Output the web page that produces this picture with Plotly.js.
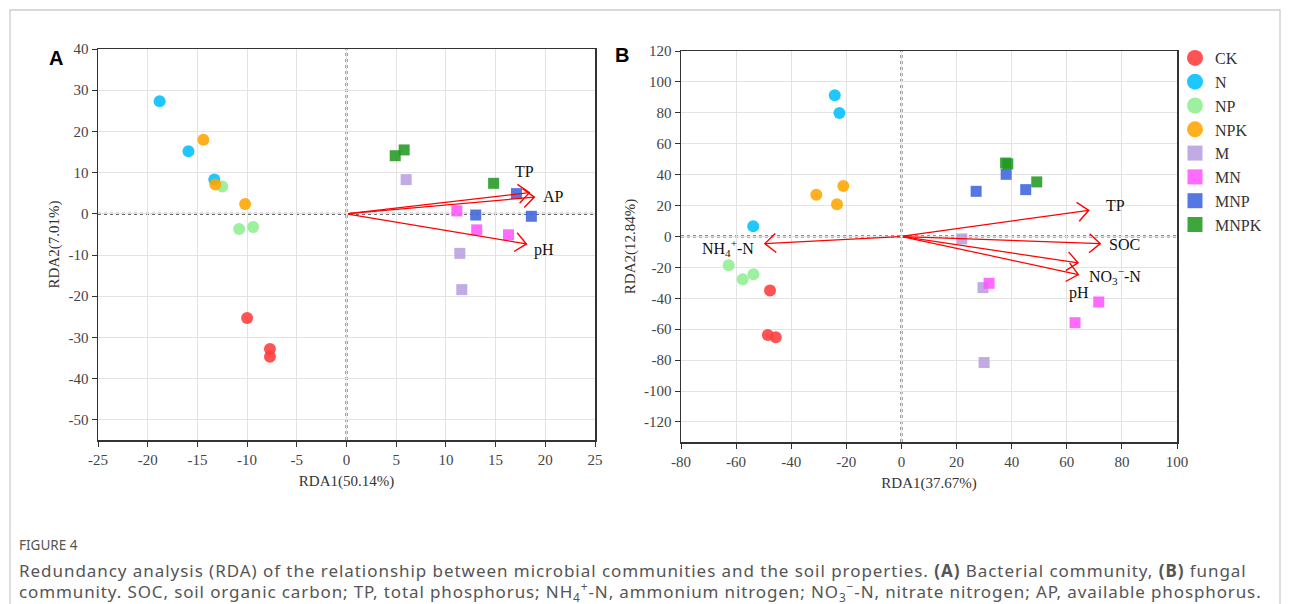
<!DOCTYPE html>
<html>
<head>
<meta charset="utf-8">
<script src="https://cdn.plot.ly/plotly-3.0.1.min.js"></script>
<style>html,body{margin:0;padding:0;background:#fff;}#chart{width:1290px;height:604px;}</style>
</head>
<body>
<div id="chart"></div>
<script>
// ---------- DATA ----------
const groups = ['CK','N','NP','NPK','M','MN','MNP','MNPK'];
const groupSymbols = ['circle','circle','circle','circle','square','square','square','square'];
const groupColors = ['#FF3B3B','#00BFFF','#90EE90','#FFA500','#B89FE0','#FF55FF','#3E64DE','#229A22'];

// Panel A (bacteria) sample scores
const A_CK_x = [-10.0, -7.7, -7.7];   const A_CK_y = [-25.3, -32.8, -34.7];
const A_N_x = [-18.8, -15.9, -13.3];  const A_N_y = [27.3, 15.2, 8.3];
const A_NP_x = [-12.5, -10.8, -9.4];  const A_NP_y = [6.6, -3.7, -3.2];
const A_NPK_x = [-14.4, -13.2, -10.2]; const A_NPK_y = [18.0, 7.1, 2.4];
const A_M_x = [6.0, 11.4, 11.6];      const A_M_y = [8.3, -9.6, -18.4];
const A_MN_x = [11.1, 13.1, 16.3];    const A_MN_y = [0.7, -3.9, -5.1];
const A_MNP_x = [17.1, 13.0, 18.6];   const A_MNP_y = [4.9, -0.3, -0.6];
const A_MNPK_x = [4.9, 5.8, 14.8];    const A_MNPK_y = [14.1, 15.5, 7.4];

// Panel B (fungi) sample scores
const B_CK_x = [-47.7, -48.5, -45.6]; const B_CK_y = [-35.0, -63.7, -65.2];
const B_N_x = [-24.2, -22.5, -53.8];  const B_N_y = [91.3, 79.9, 6.6];
const B_NP_x = [-62.7, -57.6, -53.7]; const B_NP_y = [-18.6, -27.7, -24.5];
const B_NPK_x = [-21.1, -30.9, -23.4]; const B_NPK_y = [32.7, 27.0, 20.8];
const B_M_x = [21.9, 29.6, 30.0];     const B_M_y = [-1.6, -33.1, -81.6];
const B_MN_x = [31.8, 71.6, 63.0];    const B_MN_y = [-30.3, -42.4, -55.8];
const B_MNP_x = [38.0, 27.1, 45.1];   const B_MNP_y = [40.2, 29.2, 30.3];
const B_MNPK_x = [37.8, 38.6, 49.1];  const B_MNPK_y = [47.5, 47.0, 35.3];

// Environmental vectors
const A_env = ['TP','AP','pH'];
const A_env_x = [18.6, 19.1, 18.3];
const A_env_y = [5.2, 4.1, -7.4];
const A_lab_x = [17.9, 20.8, 19.9];
const A_lab_y = [10.2, 4.2, -8.7];

const B_env = ['TP','SOC','NO<sub>3</sub><sup>−</sup>-N','pH','NH<sub>4</sub><sup>+</sup>-N'];
const B_env_x = [68.7, 72.9, 64.8, 64.9, -50.3];
const B_env_y = [17.1, -4.7, -17.3, -24.9, -4.7];
const B_lab_x = [77.5, 80.9, 77.5, 64.4, -62.8];
const B_lab_y = [20.2, -5.0, -25.5, -36.4, -7.2];

const A_xTitle = 'RDA1(50.14%)', A_yTitle = 'RDA2(7.01%)';
const B_xTitle = 'RDA1(37.67%)', B_yTitle = 'RDA2(12.84%)';
const A_xTicks = [-25,-20,-15,-10,-5,0,5,10,15,20,25];
const A_yTicks = [40,30,20,10,0,-10,-20,-30,-40,-50];
const B_xTicks = [-80,-60,-40,-20,0,20,40,60,80,100];
const B_yTicks = [120,100,80,60,40,20,0,-20,-40,-60,-80,-100,-120];

const captionTitle = 'FIGURE 4';
const captionLine1 = 'Redundancy analysis (RDA) of the relationship between microbial communities and the soil properties. <b>(A)</b> Bacterial community, <b>(B)</b> fungal';
const captionLine2 = 'community. SOC, soil organic carbon; TP, total phosphorus; NH<sub>4</sub><sup>+</sup>-N, ammonium nitrogen; NO<sub>3</sub><sup>−</sup>-N, nitrate nitrogen; AP, available phosphorus.';

// ---------- BUILD ----------
const A_sets = [[A_CK_x,A_CK_y],[A_N_x,A_N_y],[A_NP_x,A_NP_y],[A_NPK_x,A_NPK_y],[A_M_x,A_M_y],[A_MN_x,A_MN_y],[A_MNP_x,A_MNP_y],[A_MNPK_x,A_MNPK_y]];
const B_sets = [[B_CK_x,B_CK_y],[B_N_x,B_N_y],[B_NP_x,B_NP_y],[B_NPK_x,B_NPK_y],[B_M_x,B_M_y],[B_MN_x,B_MN_y],[B_MNP_x,B_MNP_y],[B_MNPK_x,B_MNPK_y]];

const W = 1290, H = 604;
const px = v => v / W;
const py = v => 1 - v / H;
const hyph = arr => arr.map(v => String(v));

const serif = 'Liberation Serif, Times New Roman, serif';
const traces = [];
groups.forEach((g, i) => {
  const sz = groupSymbols[i] === 'circle' ? 12 : 11;
  traces.push({type:'scatter', mode:'markers', x:A_sets[i][0], y:A_sets[i][1], xaxis:'x', yaxis:'y',
    name:g, showlegend:false, marker:{symbol:groupSymbols[i], size:sz, color:groupColors[i], opacity:0.88, line:{width:0}}});
  traces.push({type:'scatter', mode:'markers', x:B_sets[i][0], y:B_sets[i][1], xaxis:'x2', yaxis:'y2',
    name:g, showlegend:false, marker:{symbol:groupSymbols[i], size:sz, color:groupColors[i], opacity:0.88, line:{width:0}}});
});
groups.forEach((g, i) => {
  traces.push({type:'scatter', mode:'markers', x:[null], y:[null], xaxis:'x2', yaxis:'y2',
    name:g, showlegend:true, marker:{symbol:groupSymbols[i], size: groupSymbols[i]==='circle'?16:15, color:groupColors[i], opacity:0.88}});
});

const axisCommon = {
  showline:true, mirror:true, linecolor:'#333', linewidth:1.5,
  ticks:'outside', ticklen:5, tickcolor:'#333', tickwidth:1,
  showgrid:true, gridcolor:'#e3e3e3', gridwidth:1, zeroline:false,
  tickfont:{family:serif, size:15, color:'#444'}, automargin:false
};

const annotations = [];
function addArrows(names, xs, ys, xr, yr) {
  names.forEach((n, i) => {
    annotations.push({x:xs[i], y:ys[i], ax:0, ay:0, xref:xr, yref:yr, axref:xr, ayref:yr,
      text:'', showarrow:true, arrowhead:5, arrowsize:0.8, arrowwidth:1.25, arrowcolor:'#FF0000', standoff:0, startstandoff:0});
  });
}
addArrows(A_env, A_env_x, A_env_y, 'x', 'y');
addArrows(B_env, B_env_x, B_env_y, 'x2', 'y2');
A_env.forEach((n, i) => annotations.push({x:A_lab_x[i], y:A_lab_y[i], xref:'x', yref:'y', text:n, showarrow:false,
  font:{family:serif, size:16, color:'#111'}}));
B_env.forEach((n, i) => annotations.push({x:B_lab_x[i], y:B_lab_y[i], xref:'x2', yref:'y2', text:n, showarrow:false,
  font:{family:serif, size:16, color:'#111'}}));

annotations.push({x:px(56), y:py(58), xref:'paper', yref:'paper', xanchor:'center', yanchor:'middle', text:'<b>A</b>', showarrow:false,
  font:{family:'Liberation Sans, Arial, sans-serif', size:20, color:'#000'}});
annotations.push({x:px(622), y:py(55), xref:'paper', yref:'paper', xanchor:'center', yanchor:'middle', text:'<b>B</b>', showarrow:false,
  font:{family:'Liberation Sans, Arial, sans-serif', size:20, color:'#000'}});

annotations.push({x:px(17), y:py(545), xref:'paper', yref:'paper', xanchor:'left', yanchor:'middle', text:captionTitle, showarrow:false,
  font:{family:'Noto Sans, sans-serif', size:13.5, color:'#555'}});
annotations.push({x:px(17), y:py(570), xref:'paper', yref:'paper', xanchor:'left', yanchor:'middle', text:captionLine1, showarrow:false,
  font:{family:'Noto Sans, sans-serif', size:17, color:'#555'}});
annotations.push({x:px(17), y:py(591), xref:'paper', yref:'paper', xanchor:'left', yanchor:'middle', text:captionLine2, showarrow:false,
  font:{family:'Noto Sans, sans-serif', size:17, color:'#555'}});

const shapes = [
  {type:'rect', xref:'paper', yref:'paper', x0:px(10), x1:px(1280), y0:-0.05, y1:py(10), line:{color:'#cccccc', width:1.3}, layer:'below'},
  {type:'line', xref:'x', yref:'y', x0:-25, x1:25, y0:0, y1:0, line:{color:'#6a6a6a', width:2.2, dash:'dot'}, layer:'below'},
  {type:'line', xref:'x', yref:'y', x0:0, x1:0, y0:-54.9, y1:40, line:{color:'#6a6a6a', width:2.2, dash:'dot'}, layer:'below'},
  {type:'line', xref:'x2', yref:'y2', x0:-80, x1:100, y0:0, y1:0, line:{color:'#6a6a6a', width:2.2, dash:'dot'}, layer:'below'},
  {type:'line', xref:'x2', yref:'y2', x0:0, x1:0, y0:-133, y1:120, line:{color:'#6a6a6a', width:2.2, dash:'dot'}, layer:'below'}
];

const layout = {
  width:W, height:H, margin:{l:0, r:0, t:0, b:0}, paper_bgcolor:'#fff', plot_bgcolor:'#fff',
  showlegend:true,
  legend:{x:px(1175), y:py(41), xanchor:'left', yanchor:'top', font:{family:serif, size:16, color:'#333'},
    tracegroupgap:0, itemsizing:'trace', bgcolor:'rgba(0,0,0,0)'},
  xaxis:Object.assign({}, axisCommon, {domain:[px(98), px(595)], range:[-25,25], tickvals:A_xTicks, ticktext:hyph(A_xTicks), anchor:'y',
    title:{text:A_xTitle, font:{family:serif, size:15, color:'#333'}, standoff:9}}),
  yaxis:Object.assign({}, axisCommon, {domain:[py(440), py(49)], range:[-54.9,40], tickvals:A_yTicks, ticktext:hyph(A_yTicks), anchor:'x',
    title:{text:A_yTitle, font:{family:serif, size:15, color:'#333'}, standoff:5}}),
  xaxis2:Object.assign({}, axisCommon, {domain:[px(681), px(1177)], range:[-80,100], tickvals:B_xTicks, ticktext:hyph(B_xTicks), anchor:'y2',
    title:{text:B_xTitle, font:{family:serif, size:15, color:'#333'}, standoff:9}}),
  yaxis2:Object.assign({}, axisCommon, {domain:[py(442), py(51)], range:[-133,120], tickvals:B_yTicks, ticktext:hyph(B_yTicks), anchor:'x2',
    title:{text:B_yTitle, font:{family:serif, size:15, color:'#333'}, standoff:5}}),
  annotations:annotations, shapes:shapes
};

Plotly.newPlot('chart', traces, layout, {displayModeBar:false, staticPlot:true}).then(gd => {
  // widen caption tracking, keeping the left edge fixed
  gd.querySelectorAll('.annotation-text').forEach(t => {
    const s = t.textContent;
    let ls = null;
    if (s.startsWith('Redundancy')) ls = '0.95px';
    if (s.startsWith('community.')) ls = '0.88px';
    if (ls) {
      const bb = t.getBBox();
      t.setAttribute('text-anchor', 'start');
      t.setAttribute('x', bb.x);
      t.style.letterSpacing = ls;
    }
  });
  // open V-shaped arrowheads
  gd.querySelectorAll('.annotation-arrow-g path').forEach(p => {
    const tr = p.getAttribute('transform') || '';
    if (tr.indexOf('rotate') >= 0) {
      p.setAttribute('d', 'M-11,-9.5L0,0L-11,9.5');
      p.style.fill = 'none';
      p.style.stroke = '#FF0000';
      p.style.strokeWidth = '1.4px';
      p.style.strokeLinejoin = 'miter';
    }
  });
});
</script>
</body>
</html>
